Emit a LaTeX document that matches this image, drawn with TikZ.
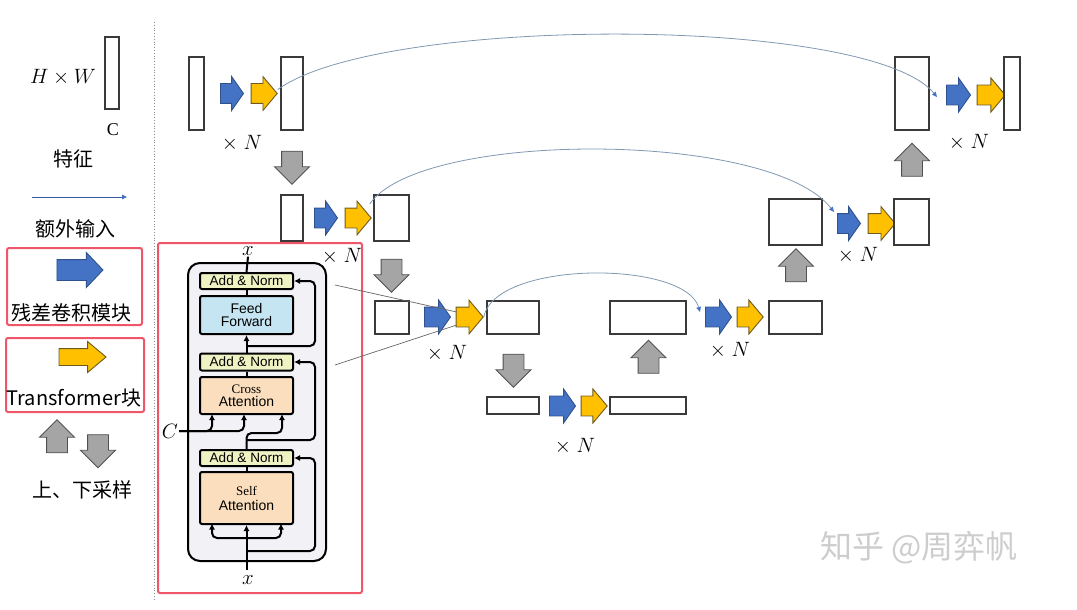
\documentclass[tikz,border=0pt]{standalone}
\usepackage{fontspec}
\newfontfamily\cjk{Noto Sans CJK SC}
\newfontfamily\lsans{Liberation Sans}
\newfontfamily\lserif{Liberation Serif}
\usetikzlibrary{shapes.arrows,arrows.meta}
\definecolor{cblue}{HTML}{4472C4}
\definecolor{cbluedk}{HTML}{2F528F}
\definecolor{cyel}{HTML}{FFC000}
\definecolor{cyeldk}{HTML}{6E5B1B}
\definecolor{cgray}{HTML}{A5A5A5}
\definecolor{cgraydk}{HTML}{505050}
\definecolor{fmline}{HTML}{3A3A3A}
\definecolor{cskip}{HTML}{8098B2}
\definecolor{cred}{HTML}{F0566A}
\definecolor{panelbg}{HTML}{F2F2F6}
\definecolor{annorm}{HTML}{EFF3C3}
\definecolor{ffblue}{HTML}{C6E5F3}
\definecolor{attor}{HTML}{FBDEBD}
\definecolor{wmark}{HTML}{CDCDCD}
\newcommand\setfs[1]{\fontsize{#1}{#1}\selectfont}
\newcommand\xN{$\times\mskip5mu N$}
\begin{document}
\begin{tikzpicture}[x=1pt,y=-1pt,
  fm/.style 2 args={draw=fmline, line width=1.2pt, fill=white, inner sep=0pt, minimum width=#1, minimum height=#2},
  barrow/.style={single arrow, inner xsep=0pt, inner ysep=9.5pt, line width=0.9pt, single arrow head extend=7pt},
  blu/.style 2 args={barrow, fill=cblue, draw=cbluedk, minimum height=#1, minimum width=#2, single arrow tip angle=110},
  ylw/.style 2 args={barrow, fill=cyel, draw=cyeldk, minimum height=#1, minimum width=#2, single arrow tip angle=100},
  gdown/.style={barrow, inner ysep=10pt, fill=cgray, draw=cgraydk, minimum height=33, minimum width=34, rotate=270, single arrow tip angle=90},
  gup/.style={barrow, inner ysep=10pt, fill=cgray, draw=cgraydk, minimum height=33, minimum width=34, rotate=90, single arrow tip angle=90},
  skip/.style={draw=cskip, line width=0.8pt, -{Triangle[length=5pt,width=4.5pt,color=cblue]}},
  xn/.style={font=\setfs{21}, inner sep=0pt},
  cn/.style={font=\cjk\setfs{20}, inner sep=0pt},
  redbox/.style={draw=cred, line width=2pt, rounded corners=2pt},
  blk/.style={draw=black, line width=2pt, rounded corners=2pt, minimum width=93, inner sep=0pt, align=center},
  pl/.style={draw=black, line width=2pt},
  pa/.style={pl, -{Latex[length=6pt,width=6pt]}},
  thin/.style={draw=black!60, line width=0.7pt}
]
\useasboundingbox (0,0) rectangle (1077,610);

% ---------------- legend ----------------
\node[xn, font=\setfs{20}] (hw) at (63,77) {$H\times W$};
\node[fm={14}{72}] (lfm) at (112,73) {};
\node[font=\lserif\setfs{18}, inner sep=0pt] (lc) at (113,130) {C};
\node[cn] (ltz) at (73,159) {特征};
\coordinate (la0) at (32,197);
\coordinate (la1) at (127,197);
\draw[draw=cblue!80!black, line width=0.8pt, -{Triangle[length=5pt,width=4.5pt,color=cblue]}] (la0) -- (la1);
\node[cn] (lew) at (75,229) {额外输入};
\draw[redbox] (7,248) rectangle (142,325);
\node[barrow, inner ysep=10pt, fill=cblue, draw=cbluedk, minimum height=46, minimum width=34, single arrow tip angle=93] (lblu) at (75,270) {};
\node[cn] (lres) at (72,313) {残差卷积模块};
\draw[redbox] (6,338) rectangle (144,412);
\node[barrow, inner ysep=8pt, fill=cyel, draw=cyeldk, minimum height=47, minimum width=30, single arrow tip angle=80] (lylw) at (77.5,357) {};
\node[cn] (ltr) at (74,398) {Transformer块};
\node[gup] (lup) at (57,441.5) {};
\node[gdown] (ldn) at (98,446) {};
\node[cn] (lud) at (82,490) {上、下采样};
\draw[draw=black!45, line width=0.8pt, dotted] (154,22) -- (154,600);

% ---------------- level 1 ----------------
\node[fm={15}{73}] (a1) at (196.5,93.5) {};
\node[blu={23}{33}] (ab) at (228.5,93.5) {};
\node[ylw={26}{33}] (ay) at (260,93.5) {};
\node[fm={22}{73}] (a2) at (292,93.5) {};
\node[xn] (an) at (242,143) {\xN};
\node[gdown] (ad) at (292,162.5) {};

% ---------------- level 2 ----------------
\node[fm={22}{46}] (b1) at (292,218) {};
\node[blu={23}{31}] (bb) at (322.5,218) {};
\node[ylw={26}{31}] (by) at (354,218) {};
\node[fm={35}{46}] (b2) at (391.5,218) {};
\node[xn] (bn) at (342,256) {\xN};
\node[gdown] (bd) at (391.5,270.5) {};

% ---------------- level 3 left ----------------
\node[fm={34}{33}] (c1) at (392,317.5) {};
\node[blu={26}{32}] (cb) at (434,317) {};
\node[ylw={27}{32}] (cy) at (465.5,317) {};
\node[fm={52}{33}] (c2) at (513,317.5) {};
\node[xn] (cn) at (447,353) {\xN};
\node[gdown] (cd) at (513.5,365.5) {};

% ---------------- level 4 ----------------
\node[fm={52}{17}] (d1) at (513,405.5) {};
\node[blu={26}{34}] (db) at (559,406) {};
\node[ylw={26}{34}] (dy) at (590,406) {};
\node[fm={76}{17}] (d2) at (648,405.5) {};
\node[xn] (dn) at (575,446) {\xN};
\node[gup] (du) at (648.5,362) {};

% ---------------- level 3 right ----------------
\node[fm={76}{33}] (e1) at (648,317.5) {};
\node[blu={26}{34}] (eb) at (715,317) {};
\node[ylw={26}{34}] (ey) at (746,317) {};
\node[fm={53}{33}] (e2) at (795.5,317.5) {};
\node[xn] (en) at (730,350) {\xN};
\node[gup] (eu) at (796,270.5) {};

% ---------------- level 2 right ----------------
\node[fm={53}{46}] (f1) at (795.5,222) {};
\node[blu={23}{33}] (fb) at (845.5,223.5) {};
\node[ylw={27}{33}] (fy) at (877.5,223.5) {};
\node[fm={35}{46}] (f2) at (911.5,222) {};
\node[xn] (fn) at (858,255) {\xN};
\node[gup] (fu) at (912,165) {};

% ---------------- level 1 right ----------------
\node[fm={34}{73}] (g1) at (912,93.5) {};
\node[blu={24}{34}] (gb) at (955,95) {};
\node[ylw={28}{34}] (gy) at (987,95) {};
\node[fm={16}{73}] (g2) at (1012,93.5) {};
\node[xn] (gn) at (969,142) {\xN};

% ---------------- skip connections ----------------
\coordinate (s1e) at (937,97);
\coordinate (s2e) at (834,212);
\coordinate (s3e) at (700,312);
\draw[skip] (ay.tip) ++(0,-4) .. controls (380,15) and (870,15) .. (s1e);
\draw[skip] (by.tip) ++(-2,-14) .. controls (420,130) and (770,130) .. (s2e);
\draw[skip] (cy.tip) .. controls (495,260) and (685,260) .. (s3e);

% ---------------- transformer panel ----------------
\draw[redbox] (158,243) rectangle (362,593);
\draw[draw=black, line width=2pt, fill=panelbg, rounded corners=12pt] (188,263) rectangle (326,561);
\node[blk, fill=annorm, minimum height=16, font=\lsans\setfs{13.5}] (an1) at (246.5,281) {Add \& Norm};
\node[blk, fill=ffblue, minimum height=38, font=\lsans\setfs{14}] (ff) at (246.5,315) {Feed\\[-1pt]Forward};
\node[blk, fill=annorm, minimum height=17, font=\lsans\setfs{13.5}] (an2) at (246.5,362) {Add \& Norm};
\node[blk, fill=attor, minimum height=37] (ca) at (246.5,395.5) {{\lserif\setfs{13}Cross}\\[1pt]{\lsans\setfs{14}Attention}};
\node[blk, fill=annorm, minimum height=16, font=\lsans\setfs{13.5}] (an3) at (246.5,458) {Add \& Norm};
\node[blk, fill=attor, minimum height=52] (sa) at (246.5,498) {{\lserif\setfs{13}Self}\\[3pt]{\lsans\setfs{14}Attention}};
\node[font=\setfs{20}, inner sep=1pt] (xt) at (248,251) {$x$};
\node[font=\setfs{20}, inner sep=1pt] (xb) at (248,580) {$x$};
\node[font=\setfs{20}, inner sep=1pt] (clab) at (170,431) {$C$};

% main flow
\coordinate (xin) at (246.5,570);
\draw[pa] (xin) -- (sa.south);
\draw[pa, rounded corners=5pt] (246.5,538) -| (212,523.5);
\draw[pa, rounded corners=5pt] (246.5,538) -| (281,523.5);
\draw[pa, rounded corners=5pt] (246.5,551) -| (315,458) -- (an3.east);
\draw[pl] (sa.north) -- (an3.south);
\draw[pa, rounded corners=5pt] (an3.north) -- (246.5,433) -| (282,414);
\draw[pa, rounded corners=5pt] (246.5,440) -| (315,362) -- (an2.east);
\draw[pa, rounded corners=5pt] (clab.east) -| (212,414);
\draw[pa, rounded corners=5pt] (clab.east) -| (244,414);
\draw[pl] (ca.north) -- (an2.south);
\draw[pa] (an2.north) -- (ff.south);
\draw[pa, rounded corners=5pt] (246.5,346) -| (315,281) -- (an1.east);
\draw[pl] (ff.north) -- (an1.south);
\draw[pl] (an1.north) -- (xt.south);

% zoom lines
\coordinate (z1) at (335,285);
\coordinate (z2) at (335,365);
\draw[thin] (z1) -- ([shift={(1,-5)}]cy.west);
\draw[thin] (z2) -- ([shift={(1,8)}]cy.west);

% watermark
\node[font=\cjk\setfs{32}, text=wmark, inner sep=0pt] (wm) at (919,548) {知乎 @周弈帆};
\end{tikzpicture}
\end{document}
